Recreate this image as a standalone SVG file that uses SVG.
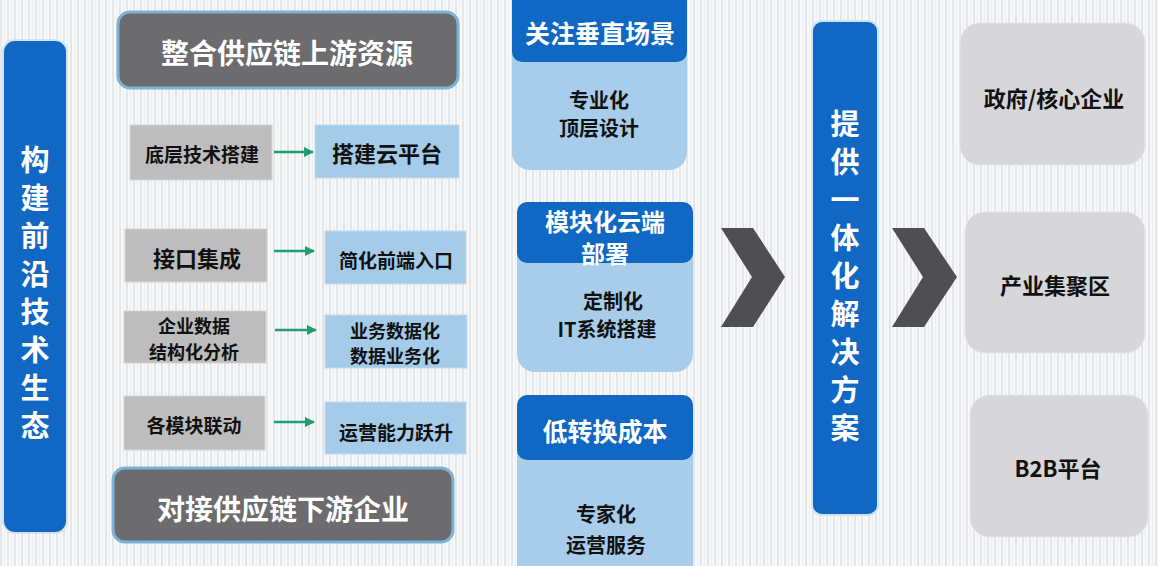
<svg xmlns="http://www.w3.org/2000/svg" width="1158" height="566" viewBox="0 0 1158 566">
<defs>
<pattern id="bgp" width="7" height="566" patternUnits="userSpaceOnUse">
<rect width="7" height="566" fill="#f7f8f9"/>
<rect x="0" width="2" height="566" fill="#e4e6e8"/>
<rect x="4" width="1" height="566" fill="#eceef0"/>
</pattern>
<marker id="ah" viewBox="0 0 10 10" refX="9" refY="5" markerWidth="4" markerHeight="4" orient="auto" markerUnits="strokeWidth">
<path d="M0,0 L10,5 L0,10 Z" fill="#1e9e72"/>
</marker>
<style>
.cjk{font-family:"Noto Sans CJK SC","Noto Sans",sans-serif;font-weight:bold;text-anchor:middle;dominant-baseline:central}
.wt{fill:#ffffff}
.dk{fill:#111111}
.big{font-size:28px}
.vt{font-size:29px}
.hd{font-size:25px}
.hd2{font-size:24px}
.bd{font-size:20px}
.rw{font-size:19px}
.rs{font-size:18px}
.rt{font-size:22px}
.banner{fill:#6c6c6e;stroke:#79b4d8;stroke-width:3}
.vbar{fill:#1168c4;stroke:#cfe3f3;stroke-width:2}
.gbox{fill:#bdbdbe;stroke:#d4d4d4;stroke-width:1}
.bbox{fill:#a4cbe8;stroke:#c4dcee;stroke-width:1}
.head{fill:#1168c4}
.body{fill:#a7cdea}
.rbox{fill:#d7d7d9;stroke:#e4e4e6;stroke-width:1}
.chev{fill:#4f4f51}
.conn{stroke:#1e9e72;stroke-width:2.5;fill:none;marker-end:url(#ah)}
</style>
</defs>
<rect width="1158" height="566" fill="url(#bgp)"/>

<g id="left-bar">
<rect class="vbar" x="3" y="40" width="64" height="493" rx="12"/>
<text class="cjk wt vt" x="35" y="158">构</text>
<text class="cjk wt vt" x="35" y="196">建</text>
<text class="cjk wt vt" x="35" y="234">前</text>
<text class="cjk wt vt" x="35" y="272">沿</text>
<text class="cjk wt vt" x="35" y="310">技</text>
<text class="cjk wt vt" x="35" y="348">术</text>
<text class="cjk wt vt" x="35" y="386">生</text>
<text class="cjk wt vt" x="35" y="424">态</text>
</g>

<g id="top-banner">
<rect class="banner" x="118" y="12" width="340" height="76" rx="12"/>
<text class="cjk wt big" x="287" y="52">整合供应链上游资源</text>
</g>

<g id="bottom-banner">
<rect class="banner" x="113" y="468" width="340" height="74" rx="12"/>
<text class="cjk wt big" x="283" y="508">对接供应链下游企业</text>
</g>

<g id="row1-src">
<rect class="gbox" x="130" y="125" width="142" height="55"/>
<text class="cjk dk rw" x="202" y="153">底层技术搭建</text>
</g>
<g id="row1-dst">
<rect class="bbox" x="315" y="125" width="144" height="53"/>
<text class="cjk dk rt" x="387" y="152">搭建云平台</text>
</g>
<g id="row2-src">
<rect class="gbox" x="125" y="229" width="142" height="53"/>
<text class="cjk dk rt" x="197" y="257">接口集成</text>
</g>
<g id="row2-dst">
<rect class="bbox" x="325" y="231" width="141" height="53"/>
<text class="cjk dk rw" x="396" y="259">简化前端入口</text>
</g>
<g id="row3-src">
<rect class="gbox" x="124" y="311" width="142" height="52"/>
<text class="cjk dk rs" x="194" y="325">企业数据</text>
<text class="cjk dk rs" x="194" y="351">结构化分析</text>
</g>
<g id="row3-dst">
<rect class="bbox" x="325" y="315" width="142" height="53"/>
<text class="cjk dk rs" x="395" y="330">业务数据化</text>
<text class="cjk dk rs" x="395" y="355">数据业务化</text>
</g>
<g id="row4-src">
<rect class="gbox" x="124" y="396" width="141" height="54"/>
<text class="cjk dk rw" x="194" y="424">各模块联动</text>
</g>
<g id="row4-dst">
<rect class="bbox" x="325" y="402" width="141" height="52"/>
<text class="cjk dk rw" x="396" y="431">运营能力跃升</text>
</g>

<g id="connectors">
<line class="conn" x1="274" y1="152" x2="313" y2="152"/>
<line class="conn" x1="274" y1="251" x2="314" y2="251"/>
<line class="conn" x1="275" y1="330" x2="316" y2="330"/>
<line class="conn" x1="274" y1="422" x2="314" y2="422"/>
</g>

<g id="card1">
<rect class="body" x="512" y="40" width="175" height="130" rx="18"/>
<rect class="head" x="512" y="-10" width="175" height="72" rx="10"/>
<text class="cjk wt hd" x="600" y="32">关注垂直场景</text>
<text class="cjk dk bd" x="599" y="99">专业化</text>
<text class="cjk dk bd" x="599" y="127">顶层设计</text>
</g>

<g id="card2">
<rect class="body" x="517" y="240" width="176" height="132" rx="18"/>
<rect class="head" x="517" y="202" width="176" height="61" rx="10"/>
<text class="cjk wt hd2" x="605" y="220">模块化云端</text>
<text class="cjk wt hd2" x="605" y="252">部署</text>
<text class="cjk dk bd" x="613" y="300">定制化</text>
<text class="cjk dk bd" x="607" y="328">IT系统搭建</text>
</g>

<g id="card3">
<rect class="body" x="517" y="430" width="176" height="160" rx="18"/>
<rect class="head" x="517" y="395" width="176" height="65" rx="10"/>
<text class="cjk wt hd" x="605" y="430">低转换成本</text>
<text class="cjk dk bd" x="606" y="513">专家化</text>
<text class="cjk dk bd" x="606" y="544">运营服务</text>
</g>

<g id="chevron1">
<polygon class="chev" points="721,228 753,228 785,277 753,327 721,327 752,277"/>
</g>

<g id="solution-bar">
<rect class="vbar" x="812" y="21" width="66" height="494" rx="10"/>
<text class="cjk wt vt" x="845" y="122">提</text>
<text class="cjk wt vt" x="845" y="160">供</text>
<text class="cjk wt vt" x="845" y="198">一</text>
<text class="cjk wt vt" x="845" y="236">体</text>
<text class="cjk wt vt" x="845" y="274">化</text>
<text class="cjk wt vt" x="845" y="312">解</text>
<text class="cjk wt vt" x="845" y="350">决</text>
<text class="cjk wt vt" x="845" y="388">方</text>
<text class="cjk wt vt" x="845" y="426">案</text>
</g>

<g id="chevron2">
<polygon class="chev" points="892,228 924,228 957,277 924,327 892,327 923,277"/>
</g>

<g id="target1">
<rect class="rbox" x="960" y="23" width="185" height="142" rx="20"/>
<text class="cjk dk rt" x="1054" y="97">政府/核心企业</text>
</g>
<g id="target2">
<rect class="rbox" x="965" y="212" width="180" height="141" rx="20"/>
<text class="cjk dk rt" x="1055" y="284">产业集聚区</text>
</g>
<g id="target3">
<rect class="rbox" x="970" y="395" width="178" height="142" rx="20"/>
<text class="cjk dk rt" x="1058" y="467">B2B平台</text>
</g>
</svg>
